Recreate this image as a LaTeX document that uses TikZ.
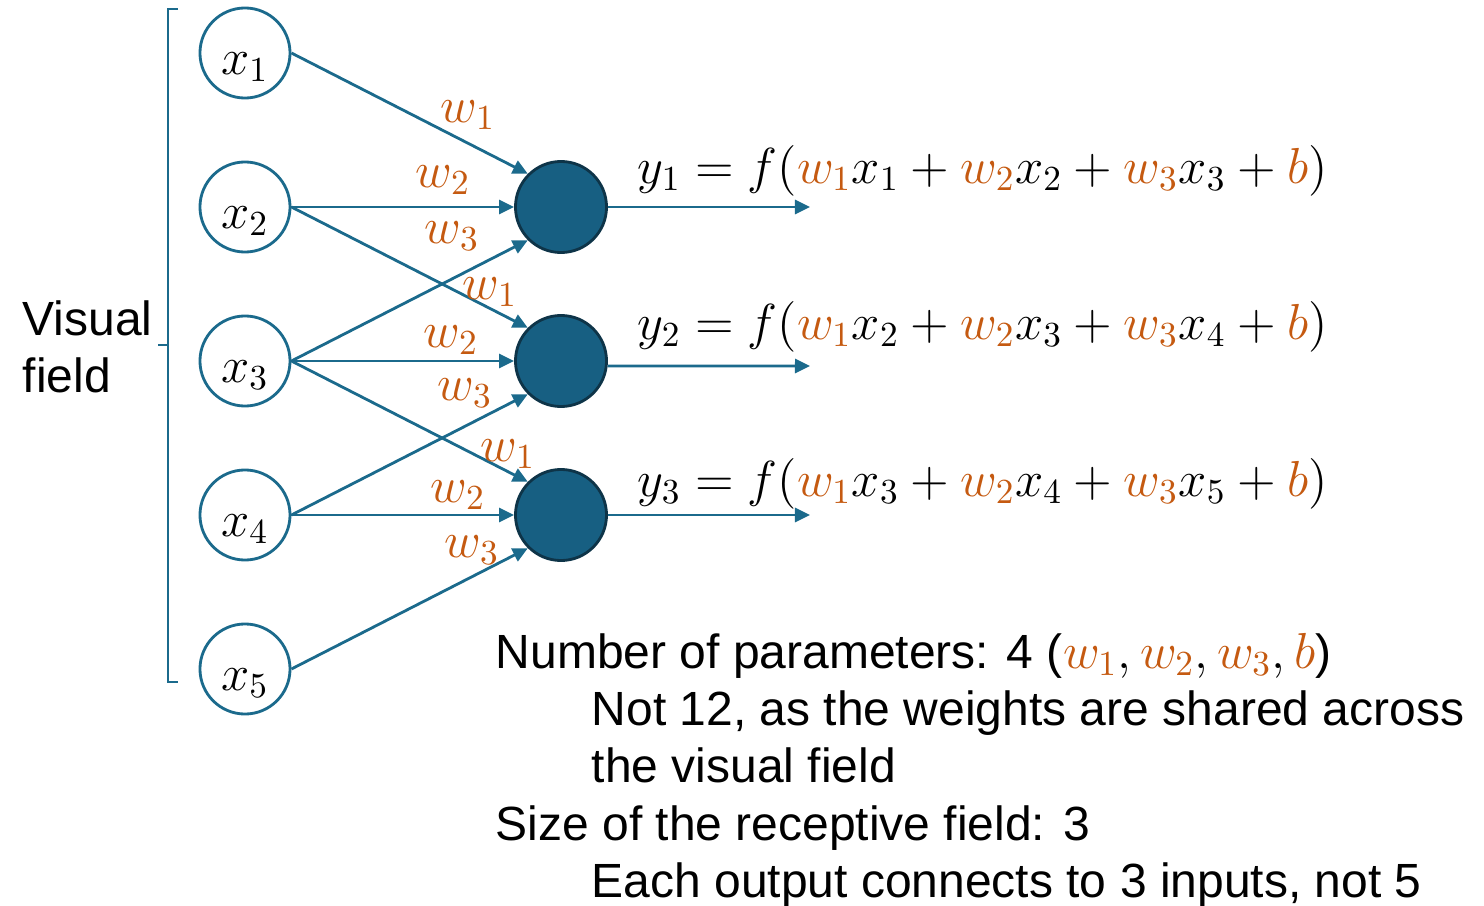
\documentclass[tikz,border=0pt]{standalone}
\usepackage{fontspec}
\setmainfont{Liberation Sans}
\usepackage{tikz}
\usetikzlibrary{arrows.meta}
\definecolor{netblue}{HTML}{1B6A8C}
\definecolor{unitfill}{HTML}{175F82}
\definecolor{unitline}{HTML}{0E3448}
\definecolor{wcol}{HTML}{C55A11}
\newcommand{\wt}[1]{{\color{wcol}#1}}

\begin{document}
\begin{tikzpicture}[x=0.01cm,y=-0.01cm,>={Triangle[length=0.15cm,width=0.14cm]},
  inp/.style={draw=netblue,line width=0.8pt,circle,minimum size=0.9cm,inner sep=0pt,text height=0.42cm,text depth=0pt,font=\fontsize{14.4}{17}\selectfont},
  unit/.style={draw=unitline,fill=unitfill,line width=0.8pt,circle,minimum size=0.91cm,inner sep=0pt},
  conn/.style={draw=netblue,line width=0.8pt,->},
  wlab/.style={text=wcol,inner sep=0pt,font=\fontsize{14.4}{17}\selectfont},
  eqn/.style={anchor=base west,inner sep=0pt,font=\fontsize{14.3}{17}\selectfont},
  txt/.style={anchor=base west,inner sep=0pt,font=\fontsize{13.65}{16.2}\selectfont}]
\useasboundingbox (0,0) rectangle (1484,906);

% inputs
\node[inp] (x1) at (245,53) {$x_1$};
\node[inp] (x2) at (245,207) {$x_2$};
\node[inp] (x3) at (245,361) {$x_3$};
\node[inp] (x4) at (245,515) {$x_4$};
\node[inp] (x5) at (245,669) {$x_5$};

% outputs
\node[unit] (y1) at (561,207) {};
\node[unit] (y2) at (561,361) {};
\node[unit] (y3) at (561,515) {};
\coordinate (o1) at (810,207);
\coordinate (o2) at (810,366);
\coordinate (o3) at (810,515);

% connections
\draw[conn] (x1.east) -- (y1.north west);
\draw[conn] (x2.east) -- (y1.west);
\draw[conn] (x3.east) -- (y1.south west);
\draw[conn] (x2.east) -- (y2.north west);
\draw[conn] (x3.east) -- (y2.west);
\draw[conn] (x4.east) -- (y2.south west);
\draw[conn] (x3.east) -- (y3.north west);
\draw[conn] (x4.east) -- (y3.west);
\draw[conn] (x5.east) -- (y3.south west);
\draw[conn] (y1.east) -- (o1);
\draw[conn] (y2.-6) -- (o2);
\draw[conn] (y3.east) -- (o3);

% weights
\node[wlab] (w11) at (468,115) {$w_1$};
\node[wlab] (w12) at (443,180) {$w_2$};
\node[wlab] (w13) at (452,236) {$w_3$};
\node[wlab] (w21) at (490,292) {$w_1$};
\node[wlab] (w22) at (451,340) {$w_2$};
\node[wlab] (w23) at (465,393) {$w_3$};
\node[wlab] (w31) at (508,454) {$w_1$};
\node[wlab] (w32) at (458,495) {$w_2$};
\node[wlab] (w33) at (472,550) {$w_3$};

% equations
\node[eqn] (eq1) at (637,183) {$y_1=f(\wt{w_1}x_1+\wt{w_2}x_2+\wt{w_3}x_3+\wt{b})$};
\node[eqn] (eq2) at (637,339) {$y_2=f(\wt{w_1}x_2+\wt{w_2}x_3+\wt{w_3}x_4+\wt{b})$};
\node[eqn] (eq3) at (637,496) {$y_3=f(\wt{w_1}x_3+\wt{w_2}x_4+\wt{w_3}x_5+\wt{b})$};

% visual field brace
\draw[netblue,line width=0.8pt] (178,9) -- (168,9) -- (168,682) -- (178,682);
\draw[netblue,line width=0.8pt] (168,345) -- (158,345);
\node[txt] (vf1) at (22,335) {Visual};
\node[txt] (vf2) at (22,392) {field};

% notes
\node[txt] (n1) at (495,668) {Number of parameters: 4 ($\wt{w_1},\wt{w_2},\wt{w_3},\wt{b}$)};
\node[txt] (n2) at (591,725) {Not 12, as the weights are shared across};
\node[txt] (n3) at (591,782) {the visual field};
\node[txt] (n4) at (495,840) {Size of the receptive field: 3};
\node[txt] (n5) at (591,897) {Each output connects to 3 inputs, not 5};
\end{tikzpicture}
\end{document}
